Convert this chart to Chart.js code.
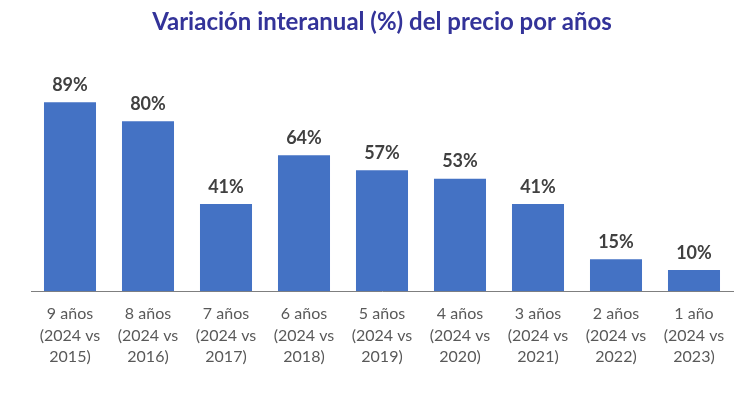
<!DOCTYPE html>
<html>
<head>
<meta charset="utf-8">
<script src="https://cdn.jsdelivr.net/npm/chart.js@4.4.0/dist/chart.umd.min.js"></script>
<style>
  html, body { margin: 0; padding: 0; background: #fff; }
  #wrap { width: 753px; height: 395px; }
</style>
</head>
<body>
<div id="wrap"><canvas id="myChart"></canvas></div>
<script>
// chart data
var labels = [
    ['9 años', '(2024 vs', '2015)'],
    ['8 años', '(2024 vs', '2016)'],
    ['7 años', '(2024 vs', '2017)'],
    ['6 años', '(2024 vs', '2018)'],
    ['5 años', '(2024 vs', '2019)'],
    ['4 años', '(2024 vs', '2020)'],
    ['3 años', '(2024 vs', '2021)'],
    ['2 años', '(2024 vs', '2022)'],
    ['1 año', '(2024 vs', '2023)']
];
var values = [89, 80, 41, 64, 57, 53, 41, 15, 10];

// draws the % labels above the bars
var barLabels = {
    id: 'barLabels',
    afterDatasetsDraw: function(chart) {
        var ctx = chart.ctx;
        var meta = chart.getDatasetMeta(0);
        ctx.save();
        ctx.font = 'bold 18px Lato';
        ctx.fillStyle = '#404040';
        ctx.textAlign = 'center';
        ctx.textBaseline = 'bottom';
        meta.data.forEach(function(bar, i) {
            ctx.fillText(values[i] + '%', bar.x, bar.y - 8);
        });
        ctx.restore();
    }
};

var ctx = document.getElementById('myChart').getContext('2d');
var chart = new Chart(ctx, {
    type: 'bar',
    data: {
        labels: labels,
        datasets: [{
            data: values,
            backgroundColor: '#4472C4',
            categoryPercentage: 1,
            barPercentage: 0.667
        }]
    },
    options: {
        responsive: true,
        maintainAspectRatio: false,
        animation: false,
        layout: { padding: { left: 31, right: 20, top: 0, bottom: 23 } },
        plugins: {
            legend: { display: false },
            tooltip: { enabled: false },
            title: {
                display: true,
                text: 'Variación interanual (%) del precio por años',
                color: '#333399',
                font: { family: 'Lato', size: 24, weight: 'bold' },
                padding: { top: 8, bottom: 42 }
            }
        },
        scales: {
            x: {
                grid: { display: false },
                border: { display: true, color: '#7f7f7f', width: 1 },
                ticks: {
                    color: '#595959',
                    font: { family: 'Lato', size: 16, lineHeight: 1.35 },
                    maxRotation: 0,
                    autoSkip: false,
                    padding: 4
                }
            },
            y: {
                display: false,
                min: 0,
                max: 100
            }
        }
    },
    plugins: [barLabels]
});
</script>
</body>
</html>
